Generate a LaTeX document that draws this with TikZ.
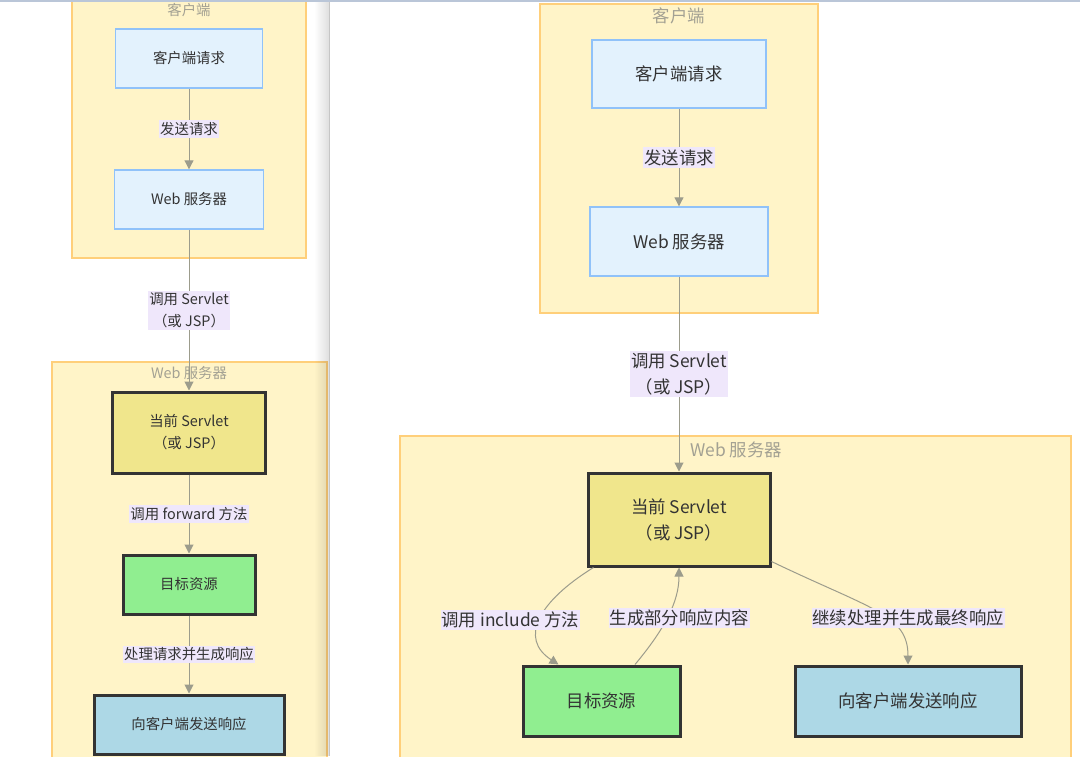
\documentclass[tikz,border=0pt]{standalone}
\usepackage{fontspec}
\setmainfont{Noto Sans CJK SC}
\usetikzlibrary{arrows.meta,fadings}
\definecolor{clfill}{HTML}{FFF4C8}
\definecolor{cldraw}{HTML}{FFCF7A}
\definecolor{cltext}{HTML}{A3A193}
\definecolor{bfill}{HTML}{E3F2FD}
\definecolor{bdraw}{HTML}{90C2F9}
\definecolor{yfill}{HTML}{F0E68C}
\definecolor{gfill}{HTML}{90EE90}
\definecolor{lbfill}{HTML}{ADD8E6}
\definecolor{dk}{HTML}{333333}
\definecolor{lab}{HTML}{EFE7FB}
\definecolor{edgec}{HTML}{9C9C8C}
\definecolor{topline}{HTML}{BAC6D8}
\begin{document}
\begin{tikzpicture}[x=1pt,y=-1pt,
 txtL/.style={font=\fontsize{14.4}{22}\selectfont, text=dk, align=center},
 txtR/.style={font=\fontsize{17.4}{26}\selectfont, text=dk, align=center},
 clus/.style={draw=cldraw, fill=clfill, line width=1.2pt},
 ctitleL/.style={font=\fontsize{14.4}{17}\selectfont, text=cltext},
 ctitleR/.style={font=\fontsize{17.4}{20}\selectfont, text=cltext},
 bbox/.style={draw=bdraw, fill=bfill, line width=1.4pt, inner sep=0pt},
 dbox/.style={draw=dk, line width=3pt, inner sep=0pt},
 elab/.style={fill=lab, inner xsep=1pt, inner ysep=2pt},
 conn/.style={draw=edgec, line width=1pt, -{Triangle[length=9pt,width=9pt]}},
]
\useasboundingbox (0,0) rectangle (1080,756);
\fill[white] (0,0) rectangle (1080,756);
% clusters
\draw[clus] (72,-5) rectangle (306,258);
\node[ctitleL] (tL1) at (189,10) {客户端};
\draw[clus] (52,362) rectangle (327,762);
\node[ctitleL] (tL2) at (189,373) {Web 服务器};
\draw[clus] (540,4) rectangle (818,313);
\node[ctitleR] (tR1) at (679,16) {客户端};
\draw[clus] (400,436) rectangle (1071,762);
\node[ctitleR] (tR2) at (736,450) {Web 服务器};
% left nodes
\node[bbox, txtL, minimum width=147pt, minimum height=59pt] (cli1) at (189,58.5) {客户端请求};
\node[bbox, txtL, minimum width=149pt, minimum height=59pt] (web1) at (189,199.5) {Web 服务器};
\node[dbox, fill=yfill, txtL, minimum width=153pt, minimum height=81pt] (cur1) at (189,432.5) {当前 Servlet\\（或 JSP）};
\node[dbox, fill=gfill, txtL, minimum width=132pt, minimum height=59pt] (tgt1) at (189,584.5) {目标资源};
\node[dbox, fill=lbfill, txtL, minimum width=190pt, minimum height=59pt] (rsp1) at (189,724.5) {向客户端发送响应};
% right nodes
\node[bbox, txtR, minimum width=174pt, minimum height=68pt] (cli2) at (679,74) {客户端请求};
\node[bbox, txtR, minimum width=178pt, minimum height=69pt] (web2) at (679,241.5) {Web 服务器};
\node[dbox, fill=yfill, txtR, minimum width=182pt, minimum height=93pt] (cur2) at (679,519.5) {当前 Servlet\\（或 JSP）};
\node[dbox, fill=gfill, txtR, minimum width=157pt, minimum height=70pt] (tgt2) at (601.5,701) {目标资源};
\node[dbox, fill=lbfill, txtR, minimum width=226pt, minimum height=70pt] (rsp2) at (908,701) {向客户端发送响应};
% left edges
\draw[conn] (cli1) -- node[elab, txtL] (e1) {发送请求} (web1);
\draw[conn] (web1) -- node[elab, txtL] (e2) {调用 Servlet\\（或 JSP）} (cur1);
\draw[conn] (cur1) -- node[elab, txtL] (e3) {调用 forward 方法} (tgt1);
\draw[conn] (tgt1) -- node[elab, txtL] (e4) {处理请求并生成响应} (rsp1);
% right edges
\draw[conn] (cli2) -- node[elab, txtR] (f1) {发送请求} (web2);
\draw[conn] (web2) -- node[elab, txtR] (f2) {调用 Servlet\\（或 JSP）} (cur2);
\draw[conn] ([xshift=7pt]cur2.south west) .. controls +(-55,34) and +(-40,-26) .. node[elab, txtR, xshift=-30pt, yshift=-1pt] (f3) {调用 include 方法} ([xshift=37pt]tgt2.north west);
\draw[conn] ([xshift=33.5pt]tgt2.north) .. controls +(30,-36) and +(0,34) .. node[elab, txtR, xshift=11pt, yshift=-3pt] (f4) {生成部分响应内容} (cur2.south);
\draw[conn] ([yshift=6pt]cur2.south east) .. controls +(100,48) and +(0,-50) .. node[elab, txtR, xshift=31pt, yshift=-6pt] (f5) {继续处理并生成最终响应} (rsp2.north);
% screenshot separator and top line
\fill[black, opacity=0.12, path fading=west] (314,0) rectangle (328.5,756);
\draw[gray!45, line width=1pt] (329.5,0) -- (329.5,756);
\draw[topline, line width=2pt] (0,1) -- (1080,1);
\end{tikzpicture}
\end{document}
